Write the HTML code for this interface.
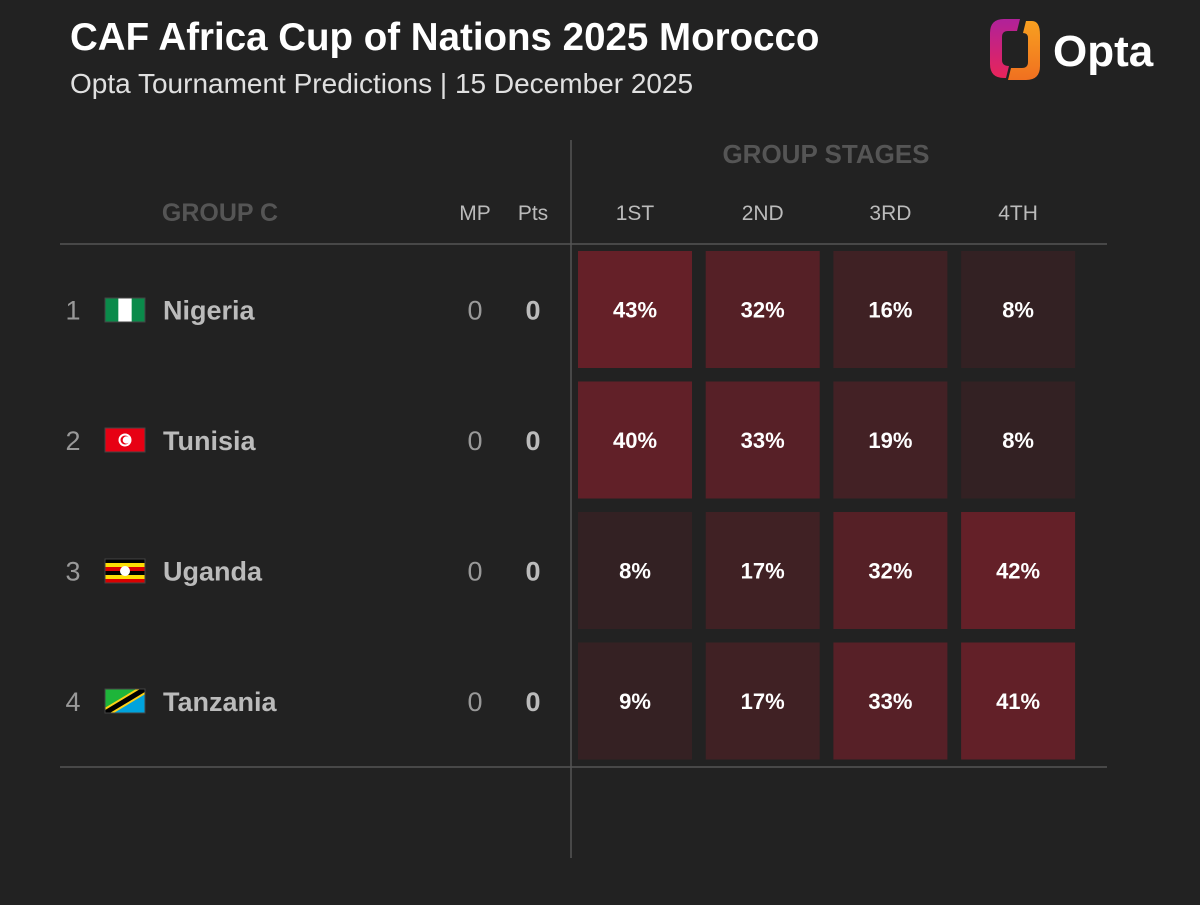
<!DOCTYPE html>
<html><head><meta charset="utf-8">
<style>
body{margin:0;background:#222222;width:1200px;height:900px;overflow:hidden;font-family:"Liberation Sans",sans-serif;}
svg text{font-family:"Liberation Sans",sans-serif;}
</style></head>
<body>
<svg id="chart" width="1200" height="900" xmlns="http://www.w3.org/2000/svg">
<rect width="1200" height="900" fill="#222222"/>
<text x="70" y="50" fill="#ffffff" font-size="38.5" font-weight="bold">CAF Africa Cup of Nations 2025 Morocco</text>
<text x="70" y="93" fill="#e0e0e0" font-size="28">Opta Tournament Predictions | 15 December 2025</text>
<g>
<defs>
<linearGradient id="lg1" x1="0" y1="0" x2="0" y2="1"><stop offset="0" stop-color="#b0229a"/><stop offset="1" stop-color="#e8245a"/></linearGradient>
<linearGradient id="lg2" x1="0" y1="0" x2="0" y2="1"><stop offset="0" stop-color="#f8a020"/><stop offset="1" stop-color="#f07020"/></linearGradient>
<clipPath id="tzclip"><rect x="105" y="689" width="40" height="24"/></clipPath>
</defs>
<path d="M1020 19 L1004 19 Q990 19 990 33 L990 64 Q990 78 1004 78 L1006 78 L1009 66 Q1002 66 1002 60 L1002 37 Q1002 31 1008 31 L1017 31 Z" fill="url(#lg1)"/>
<path d="M1026 21 L1032 21 Q1040 21 1040 35 L1040 66 Q1040 80 1026 80 L1008 80 L1011 68 L1022 68 Q1028 68 1028 62 L1028 38 Q1028 33 1023 33 Z" fill="url(#lg2)"/>
<text x="1053" y="66" fill="#ffffff" font-size="44" font-weight="bold">Opta</text>
</g>
<line x1="571" y1="140" x2="571" y2="858" stroke="#555" stroke-width="1.5"/>
<line x1="60" y1="244" x2="1107" y2="244" stroke="#555" stroke-width="1.5"/>
<line x1="60" y1="767" x2="1107" y2="767" stroke="#555" stroke-width="1.5"/>
<text x="826" y="163" fill="#555" font-size="26" font-weight="bold" text-anchor="middle">GROUP STAGES</text>
<text x="220" y="221" fill="#555" font-size="25" font-weight="bold" text-anchor="middle">GROUP C</text>
<text x="475" y="220" fill="#bbb" font-size="21" text-anchor="middle">MP</text>
<text x="533" y="220" fill="#bbb" font-size="21" text-anchor="middle">Pts</text>
<g id="rows"></g>
</svg>
<script>
const positions = ["1ST","2ND","3RD","4TH"];
const teams = ["Nigeria","Tunisia","Uganda","Tanzania"];
const mp = [0,0,0,0];
const pts = [0,0,0,0];
const probFirst = [43,40,8,9];
const probSecond = [32,33,17,17];
const probThird = [16,19,32,33];
const probFourth = [8,8,42,41];
const series = [probFirst, probSecond, probThird, probFourth];

const NS = "http://www.w3.org/2000/svg";
const svg = document.getElementById('chart');
const g = document.getElementById('rows');
const colX = i => 578 + i*127.7;
const rowY = r => 251 + r*130.5;
const cellW = 114, cellH = 117;
function color(v){
  const t = Math.max(0, Math.min(1, v/43));
  const a=[40,33,34], b=[101,32,40];
  const c=a.map((x,i)=>Math.round(x+(b[i]-x)*t));
  return `rgb(${c[0]},${c[1]},${c[2]})`;
}
function mk(tag, attrs, text){
  const e=document.createElementNS(NS,tag);
  for(const k in attrs) e.setAttribute(k,attrs[k]);
  if(text!==undefined) e.textContent=text;
  return e;
}
positions.forEach((p,i)=>{
  const t=mk('text',{x:colX(i)+cellW/2,y:220,fill:'#bbb','font-size':21,'text-anchor':'middle'},p);
  
  
  svg.appendChild(t);
});
function flag(name, x, y){
  const f=mk('g',{});
  const w=40,h=24;
  if(name==='Nigeria'){
    f.appendChild(mk('rect',{x:x,y:y,width:w,height:h,fill:'#0a8a4a'}));
    f.appendChild(mk('rect',{x:x+w/3,y:y,width:w/3,height:h,fill:'#fff'}));
  } else if(name==='Tunisia'){
    f.appendChild(mk('rect',{x:x,y:y,width:w,height:h,fill:'#e70013'}));
    f.appendChild(mk('circle',{cx:x+20,cy:y+12,r:6.5,fill:'#fff'}));
    f.appendChild(mk('circle',{cx:x+20,cy:y+12,r:4.5,fill:'#e70013'}));
    f.appendChild(mk('circle',{cx:x+21.3,cy:y+12,r:3.6,fill:'#fff'}));
  } else if(name==='Uganda'){
    const cols=['#000','#fcdc04','#d90000','#000','#fcdc04','#d90000'];
    cols.forEach((c,k)=>f.appendChild(mk('rect',{x:x,y:y+k*h/6,width:w,height:h/6+0.3,fill:c})));
    f.appendChild(mk('circle',{cx:x+20,cy:y+12,r:5,fill:'#fff'}));
  } else {
    const inner=mk('g',{'clip-path':'url(#tzclip)'});
    inner.appendChild(mk('polygon',{points:`${x},${y} ${x+w},${y} ${x},${y+h}`,fill:'#1eb53a'}));
    inner.appendChild(mk('polygon',{points:`${x+w},${y} ${x+w},${y+h} ${x},${y+h}`,fill:'#00a3dd'}));
    inner.appendChild(mk('line',{x1:x,y1:y+h,x2:x+w,y2:y,stroke:'#fcd116','stroke-width':9}));
    inner.appendChild(mk('line',{x1:x,y1:y+h,x2:x+w,y2:y,stroke:'#000','stroke-width':5}));
    f.appendChild(inner);
  }
  f.appendChild(mk('rect',{x:x,y:y,width:w,height:h,fill:'none',stroke:'#444','stroke-width':1}));
  return f;
}
teams.forEach((t,r)=>{
  const cy=rowY(r)+cellH/2;
  const row=mk('g',{});
  
  
  const rk=mk('text',{x:73,y:cy+10,fill:'#999','font-size':27,'text-anchor':'middle'},String(r+1));
  
  
  row.appendChild(rk);
  const fl=flag(t,105,Math.round(cy-12));
  
  
  row.appendChild(fl);
  const nm=mk('text',{x:163,y:cy+10,fill:'#bbb','font-size':27,'font-weight':'bold'},t);
  
  
  row.appendChild(nm);
  const m=mk('text',{x:475,y:cy+10,fill:'#999','font-size':27,'text-anchor':'middle'},String(mp[r]));
  
  
  row.appendChild(m);
  const p=mk('text',{x:533,y:cy+10,fill:'#bbb','font-size':27,'font-weight':'bold','text-anchor':'middle'},String(pts[r]));
  
  
  row.appendChild(p);
  series.forEach((s,i)=>{
    const v=s[r];
    const c=mk('rect',{x:colX(i),y:rowY(r),width:cellW,height:cellH,fill:color(v)});
    
    
    row.appendChild(c);
    const tx=mk('text',{x:colX(i)+cellW/2,y:rowY(r)+cellH/2+8,fill:'#fff','font-size':22,'font-weight':'bold','text-anchor':'middle'},v+'%');
    
    
    row.appendChild(tx);
  });
  g.appendChild(row);
});
</script>
</body></html>
